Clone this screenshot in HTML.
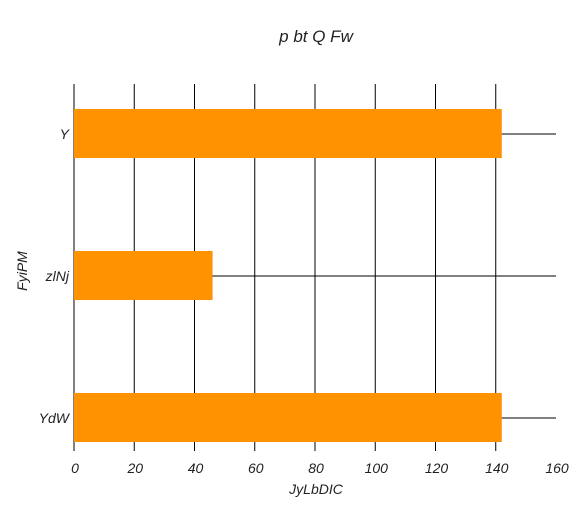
<!DOCTYPE html>
<html><head><meta charset="utf-8"><style>
body{margin:0;background:#fff}
svg text{font-family:"Liberation Sans",sans-serif;font-style:italic;fill:#222}
</style></head><body>
<svg width="584" height="511" id="c">
<text x="316" y="42" font-size="17" text-anchor="middle">p bt Q Fw</text>
<text x="316" y="494" font-size="14" text-anchor="middle">JyLbDIC</text>
<text transform="translate(27,271) rotate(-90)" font-size="14" text-anchor="middle">FyiPM</text>
</svg>
<script>
const categories=["Y","zlNj","YdW"];
const values=[142,46,142];
const ticks=[0,20,40,60,80,100,120,140,160];
const svg=document.getElementById('c');
const NS="http://www.w3.org/2000/svg";
const x=v=>74+v*(556-74)/160;
const y=i=>134+i*142;
function mk(t,a){const e=document.createElementNS(NS,t);for(const k in a)e.setAttribute(k,a[k]);svg.appendChild(e);return e;}
ticks.forEach(t=>{
  if(t<160){const l=mk('line',{x1:x(t),x2:x(t),y1:84,y2:451,stroke:'#000','stroke-width':1});
  
  }
  const tx=mk('text',{x:x(t)+1,y:473,'font-size':14,'text-anchor':'middle'});tx.textContent=t;
  
  
});
categories.forEach((c,i)=>{
  const l=mk('line',{x1:74,x2:556,y1:y(i),y2:y(i),stroke:'#000','stroke-width':1});
  
  
  const r=mk('rect',{x:x(0),y:y(i)-25,width:x(values[i])-x(0),height:49,fill:'#ff9200'});
  
  
  const t=mk('text',{x:69,y:y(i)+5,'font-size':14,'text-anchor':'end'});t.textContent=c;
  
  
});
</script>
</body></html>
